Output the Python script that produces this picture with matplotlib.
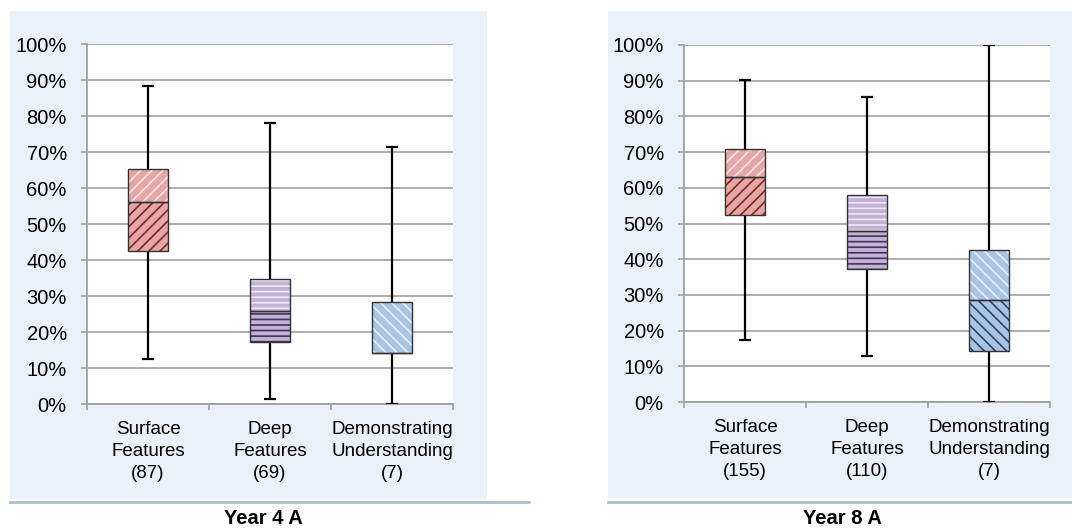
import matplotlib
matplotlib.use("Agg")
import matplotlib.pyplot as plt
from matplotlib.patches import Rectangle
from matplotlib.lines import Line2D
from matplotlib.ticker import PercentFormatter

plt.rcParams['font.family'] = ['Liberation Sans', 'DejaVu Sans']
plt.rcParams['hatch.linewidth'] = 1.2

# categories and counts
cat_names = ['Surface\nFeatures', 'Deep\nFeatures', 'Demonstrating\nUnderstanding']
y4_n = [87, 69, 7]
y8_n = [155, 110, 7]

# five-number summaries (%)
y4_min = [12.6, 1.3, 0.0]
y4_q1 = [42.4, 17.1, 14.2]
y4_med = [56.2, 25.9, 14.2]
y4_q3 = [65.4, 34.6, 28.4]
y4_max = [88.3, 78.0, 71.3]

y8_min = [17.5, 12.8, 0.0]
y8_q1 = [52.3, 37.3, 14.4]
y8_med = [63.1, 48.0, 28.7]
y8_q3 = [70.9, 58.1, 42.7]
y8_max = [90.2, 85.3, 100.0]

# styles per category: face, dark hatch, light hatch, hatch pattern
faces = ['#E4A7A5', '#C2B2D6', '#A9C4E4']
dark_hatch = ['#7E2626', '#40325A', '#2A466A']
light_hatch = ['#F9E6E5', '#EEE8F4', '#E9F1FA']
patterns = ['///', '---', '\\\\\\']

W, H = 1072, 529
fig = plt.figure(figsize=(W / 100, H / 100), dpi=100)


def px_rect(x0, y0, x1, y1):
    # pixel box (top-left origin) -> figure fraction rect
    return [x0 / W, 1 - y1 / H, (x1 - x0) / W, (y1 - y0) / H]


# panel backgrounds and underlines
for (x0, y0, x1, y1) in [(10, 11, 487, 499), (608, 11, 1072, 498)]:
    r = px_rect(x0, y0, x1, y1)
    fig.add_artist(Rectangle((r[0], r[1]), r[2], r[3], transform=fig.transFigure,
                             facecolor='#EAF1F9', edgecolor='none', zorder=0))
for (x0, x1) in [(10, 529), (608, 1072)]:
    fig.add_artist(Line2D([x0 / W, x1 / W], [1 - 501.5 / H] * 2, transform=fig.transFigure,
                          color='#A8BBC5', lw=1.9, zorder=1))


def draw_panel(rect, mins, q1, med, q3, maxs, ns, title, title_x):
    ax = fig.add_axes(px_rect(*rect))
    ax.set_facecolor('white')
    ax.set_xlim(0, 3)
    ax.set_ylim(0, 100)
    xs = [0.5, 1.5, 2.5]
    bw = 0.33
    cap = 0.1
    for i, x in enumerate(xs):
        ax.vlines(x, mins[i], maxs[i], color='black', lw=1.6, zorder=3)
        ax.hlines([mins[i], maxs[i]], x - cap / 2, x + cap / 2, color='black', lw=1.6, zorder=3)
        # lower half (dark pattern) and upper half (light pattern)
        ax.bar(x, med[i] - q1[i], bw, bottom=q1[i], color=faces[i], edgecolor=dark_hatch[i],
               hatch=patterns[i], lw=0, zorder=4)
        ax.bar(x, q3[i] - med[i], bw, bottom=med[i], color=faces[i], edgecolor=light_hatch[i],
               hatch=patterns[i], lw=0, zorder=4)
        ax.bar(x, med[i] - q1[i], bw, bottom=q1[i], fill=False, edgecolor='#333333', lw=1.0, zorder=5)
        ax.bar(x, q3[i] - med[i], bw, bottom=med[i], fill=False, edgecolor='#333333', lw=1.0, zorder=5)

    ax.set_yticks(range(0, 101, 10))
    ax.yaxis.set_major_formatter(PercentFormatter(decimals=0))
    ax.grid(axis='y', color='#A0A0A0', lw=1.2)
    ax.set_axisbelow(True)
    for s in ['top', 'right']:
        ax.spines[s].set_visible(False)
    for s in ['left', 'bottom']:
        ax.spines[s].set_color('#A0A0A0')
        ax.spines[s].set_linewidth(1.3)
    ax.tick_params(axis='y', length=4.5, color='#A0A0A0', width=1.2, pad=10, labelsize=14.5)
    ax.set_xticks(xs)
    ax.set_xticklabels([f'{c}\n({n})' for c, n in zip(cat_names, ns)], fontsize=13.5,
                       linespacing=1.38)
    ax.tick_params(axis='x', length=0, pad=12)
    ax.set_xticks([0, 1, 2, 3], minor=True)
    ax.tick_params(axis='x', which='minor', length=4, color='#A0A0A0', width=1.2)
    fig.text(title_x / W, 1 - 519 / H, title, ha='center', va='center',
             fontsize=14.5, fontweight='bold')
    return ax


draw_panel((87, 44, 453, 404), y4_min, y4_q1, y4_med, y4_q3, y4_max, y4_n, 'Year 4 A', 263)
draw_panel((684, 45, 1050, 402), y8_min, y8_q1, y8_med, y8_q3, y8_max, y8_n, 'Year 8 A', 842)

fig.savefig('out.png', dpi=100)
